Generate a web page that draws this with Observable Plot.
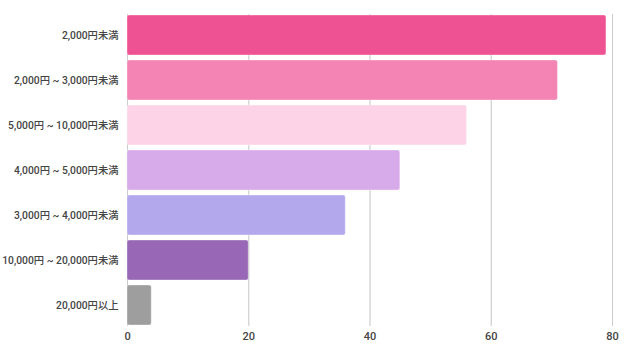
<!DOCTYPE html>
<html>
<head>
<meta charset="utf-8">
<script src="https://cdn.jsdelivr.net/npm/d3@7"></script>
<script src="https://cdn.jsdelivr.net/npm/@observablehq/plot@0.6"></script>
<style>
  html, body { margin: 0; padding: 0; background: #fff; }
  #chart svg { display: block; }
</style>
</head>
<body>
<div id="chart"></div>
<script>
const categories = [
  "2,000円未満",
  "2,000円 ~ 3,000円未満",
  "5,000円 ~ 10,000円未満",
  "4,000円 ~ 5,000円未満",
  "3,000円 ~ 4,000円未満",
  "10,000円 ~ 20,000円未満",
  "20,000円以上"
];
const values = [79, 71, 56, 45, 36, 20, 4];
const colors = ["#ef5293", "#f484b3", "#fdd4e7", "#d7aaea", "#b4a8ec", "#9868b6", "#9e9e9e"];
const xTicks = [0, 20, 40, 60, 80];

const data = categories.map((c, i) => ({category: c, value: values[i], color: colors[i]}));

const chart = Plot.plot({
  width: 640,
  height: 360,
  marginTop: 14,
  marginBottom: 34,
  marginLeft: 127,
  marginRight: 28,
  style: {fontFamily: "Roboto, 'Noto Sans CJK JP', sans-serif", fontSize: "10.3px", color: "#444", fontWeight: 500},
  x: {domain: [0, 80], ticks: xTicks, grid: true, label: null, tickSize: 0, tickPadding: 6, tickFormat: d3.format("d")},
  y: {domain: categories, label: null, tickSize: 0, tickPadding: 9, paddingInner: 0.11, paddingOuter: 0},
  marks: [
    Plot.gridX(xTicks, {stroke: "#ccc", strokeOpacity: 1}),
    Plot.barX(data, {x: "value", y: "category", fill: "color", stroke: "#fff", strokeOpacity: 0.35, strokeWidth: 1, rx: 2}),
    Plot.axisX({ticks: xTicks, tickSize: 0, tickPadding: 6, label: null, fontSize: 11}),
    Plot.axisY({tickSize: 0, tickPadding: 9, label: null})
  ]
});
document.getElementById("chart").appendChild(chart);
</script>
</body>
</html>
